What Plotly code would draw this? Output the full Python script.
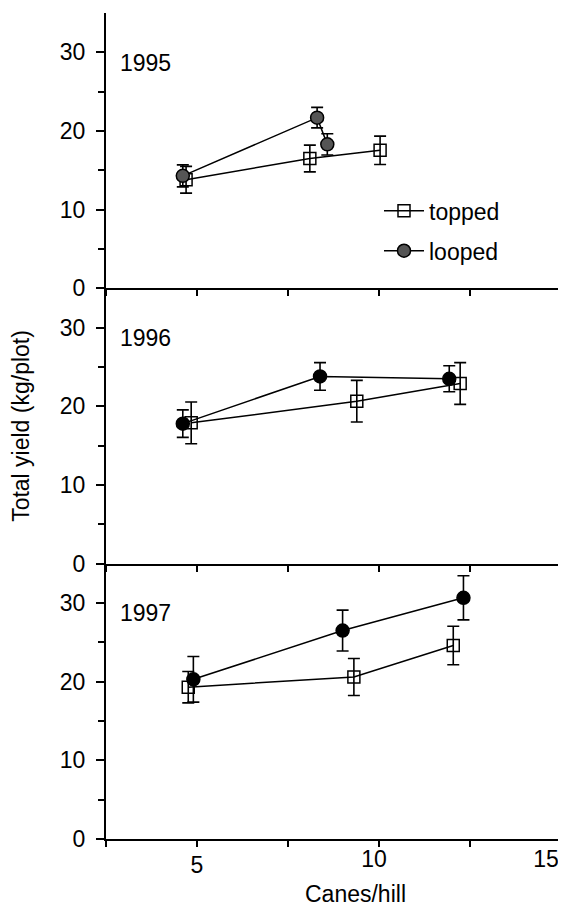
import plotly.graph_objects as go

# ---- data ----
years = ["1995", "1996", "1997"]
series_names = ["topped", "looped"]

x_topped_1995 = [4.70, 8.10, 10.03]
y_topped_1995 = [13.8, 16.5, 17.55]
e_topped_1995 = [1.7, 1.7, 1.8]
x_looped_1995 = [4.61, 8.30, 8.58]
y_looped_1995 = [14.3, 21.7, 18.3]
e_looped_1995 = [1.4, 1.3, 1.35]

x_topped_1996 = [4.84, 9.39, 12.23]
y_topped_1996 = [17.9, 20.65, 22.9]
e_topped_1996 = [2.65, 2.65, 2.65]
x_looped_1996 = [4.61, 8.38, 11.93]
y_looped_1996 = [17.8, 23.8, 23.5]
e_looped_1996 = [1.75, 1.75, 1.65]

x_topped_1997 = [4.76, 9.31, 12.04]
y_topped_1997 = [19.3, 20.6, 24.6]
e_topped_1997 = [2.0, 2.35, 2.45]
x_looped_1997 = [4.90, 9.00, 12.32]
y_looped_1997 = [20.3, 26.5, 30.66]
e_looped_1997 = [2.9, 2.6, 2.8]

x_tickvals = [2.5, 5, 7.5, 10, 12.5, 15]
x_ticktext = ["", "5", "", "", "", ""]
x_mid_tickvals = [10]
x_mid_ticktext = ["10"]
x_edge_tickvals = [15]
x_edge_ticktext = ["15"]
y_tickvals = [0, 10, 20, 30]
x_title = "Canes/hill"
y_title = "Total yield (kg/plot)"

FONT = "Liberation Sans, Arial, sans-serif"
FS = 23

# the page body has an 8px default margin, so the figure is 8px smaller
# than the window and positioned to compensate
OFF = 8
W, H = 566 - OFF, 911 - OFF
PL, PR, PT, PB = 106, 561, 12.7, 839.3   # plot area in window pixels
PH = PB - PT

panels = [
    ("1995", "3", (x_topped_1995, y_topped_1995, e_topped_1995),
     (x_looped_1995, y_looped_1995, e_looped_1995), "#555555", True),
    ("1996", "2", (x_topped_1996, y_topped_1996, e_topped_1996),
     (x_looped_1996, y_looped_1996, e_looped_1996), "black", False),
    ("1997", "", (x_topped_1997, y_topped_1997, e_topped_1997),
     (x_looped_1997, y_looped_1997, e_looped_1997), "black", False),
]

fig = go.Figure()

for year, sfx, top, loop, lcol, leg in panels:
    xa = "x" + sfx
    ya = "y" + sfx
    fig.add_trace(go.Scatter(
        x=top[0], y=top[1], xaxis=xa, yaxis=ya,
        mode="lines+markers", name="topped", showlegend=leg,
        legendgroup="topped",
        line=dict(color="black", width=1.5),
        marker=dict(symbol="square-open", size=12, color="black",
                    line=dict(width=1.5, color="black")),
        error_y=dict(type="data", array=top[2], visible=True,
                     thickness=1.6, width=6, color="black"),
    ))
    fig.add_trace(go.Scatter(
        x=loop[0], y=loop[1], xaxis=xa, yaxis=ya,
        mode="lines+markers", name="looped", showlegend=leg,
        legendgroup="looped",
        line=dict(color="black", width=1.5),
        marker=dict(symbol="circle", size=13, color=lcol,
                    line=dict(width=1.5, color="black")),
        error_y=dict(type="data", array=loop[2], visible=True,
                     thickness=1.6, width=6, color="black"),
    ))
    fig.add_annotation(
        text=year, x=2.82, y=28.7, xref=xa, yref=ya,
        xanchor="left", yanchor="middle", showarrow=False,
        font=dict(family=FONT, size=FS, color="black"),
    )

# empty traces so the overlay label axes (used only for shifted tick labels) get drawn
for xa in ("x4", "x5"):
    fig.add_trace(go.Scatter(x=[], y=[], xaxis=xa, yaxis="y",
                             showlegend=False, hoverinfo="skip"))

# x-axis title, placed as in the reference (slightly right of centre)
fig.add_annotation(
    text=x_title, x=(355 - PL) / (PR - PL), y=-(894 - PB) / PH,
    xref="paper", yref="paper",
    xanchor="center", yanchor="middle", showarrow=False,
    font=dict(family=FONT, size=FS, color="black"),
)

common_x = dict(
    range=[2.5, 15], showline=True, linecolor="black", linewidth=2,
    ticks="outside", ticklen=6, tickwidth=1.5, tickcolor="black",
    tickvals=x_tickvals, ticktext=x_ticktext, showgrid=False, zeroline=False,
    tickfont=dict(family=FONT, size=FS, color="black"),
    ticklabeloverflow="allow",
)
overlay_x = dict(
    range=[2.5, 15], overlaying="x", anchor="y", side="bottom",
    domain=[0, 1], showline=False, showgrid=False, zeroline=False,
    ticks="", ticklabelstandoff=4, ticklabeloverflow="allow",
    tickfont=dict(family=FONT, size=FS, color="black"),
)
common_y = dict(
    range=[0, 35], showline=True, linecolor="black", linewidth=2,
    ticks="outside", ticklen=8, tickwidth=1.5, tickcolor="black",
    tickvals=y_tickvals, showgrid=False, zeroline=False,
    minor=dict(tickvals=[5, 15, 25], ticks="outside", ticklen=6,
               tickwidth=1.5, tickcolor="black"),
    tickfont=dict(family=FONT, size=FS, color="black"),
    ticklabelstandoff=6,
)

third = 1 / 3
fig.update_layout(
    width=W, height=H,
    margin=dict(l=PL - OFF, r=W - (PR - OFF), t=PT - OFF, b=H - (PB - OFF),
                pad=0, autoexpand=False),
    paper_bgcolor="white", plot_bgcolor="white",
    font=dict(family=FONT, size=FS, color="black"),
    xaxis=dict(common_x, anchor="y", domain=[0, 1], ticklabelstandoff=-2),
    xaxis4=dict(overlay_x, tickvals=x_mid_tickvals, ticktext=x_mid_ticktext,
                ticklabelshift=-5),
    xaxis5=dict(overlay_x, tickvals=x_edge_tickvals, ticktext=x_edge_ticktext,
                ticklabelshift=-15),
    xaxis2=dict(common_x, anchor="y2", domain=[0, 1], showticklabels=False),
    xaxis3=dict(common_x, anchor="y3", domain=[0, 1], showticklabels=False),
    yaxis=dict(common_y, anchor="x", domain=[0, third]),
    yaxis2=dict(common_y, anchor="x2", domain=[third, 2 * third],
                title=dict(text=y_title, standoff=24,
                           font=dict(family=FONT, size=FS, color="black"))),
    yaxis3=dict(common_y, anchor="x3", domain=[2 * third, 1]),
    showlegend=True,
    legend=dict(x=0.6, y=0.7865, xanchor="left", yanchor="top",
                bgcolor="rgba(0,0,0,0)", traceorder="grouped",
                tracegroupgap=7, itemwidth=40,
                font=dict(family=FONT, size=FS, color="black")),
)

fig.write_html("out.html")
